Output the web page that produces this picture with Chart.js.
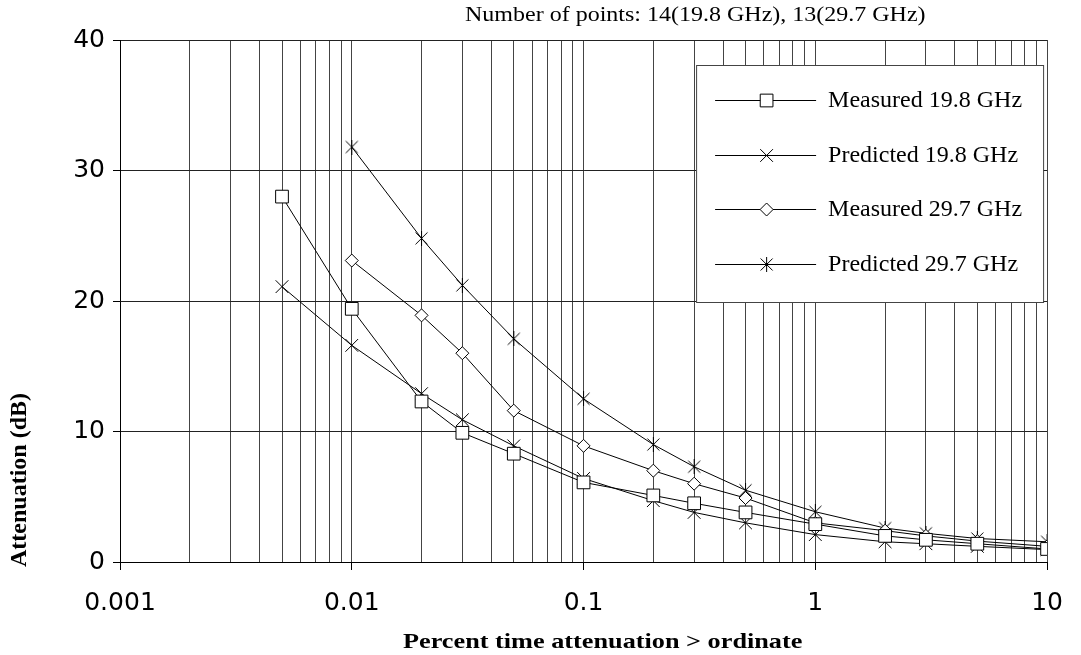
<!DOCTYPE html>
<html>
<head>
<meta charset="utf-8">
<script src="https://cdn.jsdelivr.net/npm/chart.js@4/dist/chart.umd.min.js"></script>
<style>
  html, body { margin: 0; padding: 0; background: #fff; }
  #wrap { width: 1081px; height: 655px; }
</style>
</head>
<body>
<div id="wrap"><canvas id="attChart"></canvas></div>
<script>
// Percent of time (x) for each measured/predicted point
const percent198 = [0.005, 0.01, 0.02, 0.03, 0.05, 0.1, 0.2, 0.3, 0.5, 1, 2, 3, 5, 10];
const percent297 = [0.01, 0.02, 0.03, 0.05, 0.1, 0.2, 0.3, 0.5, 1, 2, 3, 5, 10];

// Attenuation in dB
const measured198  = [28.0, 19.4, 12.3, 9.9, 8.3, 6.1, 5.1, 4.5, 3.8, 2.9, 2.0, 1.7, 1.4, 1.0];
const predicted198 = [21.1, 16.6, 12.9, 10.9, 8.9, 6.4, 4.7, 3.8, 3.0, 2.1, 1.55, 1.4, 1.2, 0.95];
const measured297  = [23.1, 18.9, 16.0, 11.6, 8.9, 7.0, 6.0, 4.9, 3.0, 2.4, 2.0, 1.6, 1.2];
const predicted297 = [31.8, 24.8, 21.2, 17.1, 12.5, 9.0, 7.3, 5.5, 3.85, 2.6, 2.2, 1.8, 1.55];

const seriesNames = ["Measured 19.8 GHz", "Predicted 19.8 GHz", "Measured 29.7 GHz", "Predicted 29.7 GHz"];
const decadeLabels = ["0.001", "0.01", "0.1", "1", "10"];
const yTicks = [0, 10, 20, 30, 40];

const titleText = "Number of points: 14(19.8 GHz), 13(29.7 GHz)";
const xTitle = "Percent time attenuation > ordinate";
const yTitle = "Attenuation (dB)";

const serif = "'Liberation Serif', 'Times New Roman', serif";
const sans = "'DejaVu Sans', sans-serif";

// asterisk marker: an x with a vertical bar
function asteriskMarker() {
    const c = document.createElement("canvas");
    c.width = 15; c.height = 15;
    const g = c.getContext("2d");
    g.strokeStyle = "#000";
    g.lineWidth = 1;
    g.beginPath();
    g.moveTo(1.5, 1.5); g.lineTo(13.5, 13.5);
    g.moveTo(13.5, 1.5); g.lineTo(1.5, 13.5);
    g.moveTo(7.5, 0); g.lineTo(7.5, 15);
    g.stroke();
    return c;
}

function toPoints(xs, ys) {
    return xs.map((x, i) => ({ x: x, y: ys[i] }));
}

// minor + major ticks for every decade of the log axis
const decadeValues = decadeLabels.map(Number);
const xTickValues = [];
decadeValues.forEach((d, i) => {
    if (i === decadeValues.length - 1) { xTickValues.push(d); return; }
    for (let m = 1; m <= 9; m++) xTickValues.push(+(d * m).toPrecision(3));
});

const lineStyle = {
    borderColor: "#000",
    borderWidth: 1,
    pointBorderColor: "#000",
    pointBorderWidth: 1,
    pointBackgroundColor: "#fff",
    fill: false,
    tension: 0,
};

const datasets = [
    Object.assign({ label: seriesNames[0], data: toPoints(percent198, measured198), pointStyle: "rect", pointRadius: 9 }, lineStyle),
    Object.assign({ label: seriesNames[1], data: toPoints(percent198, predicted198), pointStyle: "crossRot", pointRadius: 9 }, lineStyle),
    Object.assign({ label: seriesNames[2], data: toPoints(percent297, measured297), pointStyle: "rectRot", pointRadius: 6.5 }, lineStyle),
    Object.assign({ label: seriesNames[3], data: toPoints(percent297, predicted297), pointStyle: asteriskMarker(), pointRadius: 7 }, lineStyle),
];

// text drawn a little wider than the font, like the original serif
function wideText(ctx, text, x, y, stretch) {
    ctx.save();
    ctx.translate(x, y);
    ctx.scale(stretch, 1);
    ctx.fillText(text, 0, 0);
    ctx.restore();
}

// legend box and titles drawn on top of the chart area
const overlay = {
    id: "overlay",
    afterDraw(chart) {
        const ctx = chart.ctx;
        const area = chart.chartArea;
        ctx.save();

        // legend box
        const bx = area.right - 351, by = area.top + 25, bw = 347, bh = 237;
        ctx.fillStyle = "#fff";
        ctx.fillRect(bx, by, bw, bh);
        ctx.strokeStyle = "#444";
        ctx.lineWidth = 1;
        ctx.strokeRect(bx + 0.5, by + 0.5, bw, bh);

        chart.data.datasets.forEach((ds, i) => {
            const y = Math.round(by + 35 + i * 54.5);
            ctx.strokeStyle = "#000";
            ctx.beginPath();
            ctx.moveTo(bx + 19, y + 0.5);
            ctx.lineTo(bx + 120, y + 0.5);
            ctx.stroke();
            ctx.fillStyle = "#fff";
            Chart.helpers.drawPoint(ctx, {
                pointStyle: ds.pointStyle,
                radius: ds.pointRadius,
                borderWidth: 1,
            }, bx + 70.5, y + 0.5);
            ctx.fillStyle = "#000";
            ctx.font = "24px " + serif;
            ctx.textBaseline = "middle";
            ctx.textAlign = "left";
            ctx.fillText(ds.label, bx + 132, y + 1);
        });

        // top note
        ctx.fillStyle = "#000";
        ctx.textAlign = "left";
        ctx.textBaseline = "alphabetic";
        ctx.font = "20px " + serif;
        wideText(ctx, titleText, 465, 21, 1.2);

        // x axis title
        ctx.font = "bold 21px " + serif;
        wideText(ctx, xTitle, 403, 648, 1.25);

        // y axis title
        ctx.font = "bold 24px " + serif;
        ctx.textAlign = "center";
        ctx.textBaseline = "middle";
        ctx.translate(20, 480);
        ctx.rotate(-Math.PI / 2);
        ctx.fillText(yTitle, 0, 0);
        ctx.restore();
    }
};

document.addEventListener("DOMContentLoaded", function () {
    const ctx = document.getElementById("attChart").getContext("2d");

    new Chart(ctx, {
        type: "line",
        data: { datasets: datasets },
        options: {
            responsive: true,
            maintainAspectRatio: false,
            animation: false,
            layout: { padding: { top: 40, right: 33, left: 0, bottom: 0 } },
            plugins: {
                legend: { display: false },
                tooltip: { enabled: false },
            },
            scales: {
                x: {
                    type: "logarithmic",
                    min: 0.001,
                    max: 10,
                    border: { color: "#000", width: 1 },
                    afterBuildTicks: (scale) => {
                        scale.ticks = xTickValues.map(v => ({ value: v, major: decadeValues.includes(v) }));
                    },
                    afterFit: (scale) => { scale.height = 93; },
                    grid: {
                        color: "#444",
                        lineWidth: 1,
                        tickLength: 8,
                        tickColor: (c) => (c.tick && decadeValues.includes(c.tick.value)) ? "#000" : "rgba(0,0,0,0)",
                    },
                    ticks: {
                        autoSkip: false,
                        maxRotation: 0,
                        padding: 18,
                        color: "#000",
                        font: { family: sans, size: 25 },
                        callback: (v) => {
                            const i = decadeValues.indexOf(v);
                            return i >= 0 ? decadeLabels[i] : "";
                        },
                    },
                },
                y: {
                    min: yTicks[0],
                    max: yTicks[yTicks.length - 1],
                    border: { color: "#000", width: 1 },
                    afterBuildTicks: (scale) => {
                        scale.ticks = yTicks.map(v => ({ value: v }));
                    },
                    afterFit: (scale) => { scale.width = 120; },
                    grid: {
                        color: "#222",
                        lineWidth: 1,
                        tickLength: 7,
                        tickColor: "#000",
                    },
                    ticks: {
                        padding: 8,
                        color: "#000",
                        font: { family: sans, size: 25 },
                    },
                },
            },
        },
        plugins: [overlay],
    });
});
</script>
</body>
</html>
